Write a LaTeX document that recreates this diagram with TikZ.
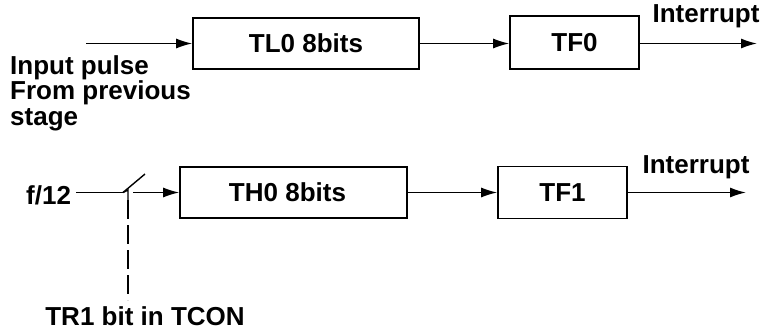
\documentclass[tikz,border=0pt]{standalone}
\usepackage{fontspec}
\setmainfont{Liberation Sans}
\usetikzlibrary{arrows.meta}
\begin{document}
\begin{tikzpicture}[x=1pt,y=-1pt,
  blk/.style={draw,line width=1.6pt,inner sep=0pt,font=\bfseries\fontsize{26}{27}\selectfont},
  lbl/.style={inner sep=0pt,font=\bfseries\fontsize{26}{27}\selectfont},
  wire/.style={line width=1.4pt},
  arr/.style={wire,-{Latex[length=16pt,width=10pt]}}]
\useasboundingbox (0,0) rectangle (768,332);
% top row
\node[blk,minimum width=226pt,minimum height=51pt] (tl0) at (306,43.5) {TL0 8bits};
\node[blk,minimum width=129pt,minimum height=53pt] (tf0) at (574.5,42.5) {TF0};
\coordinate (in0) at (86,43.5);
\coordinate (int0) at (757,43.5);
\draw[arr] (in0) -- (tl0.west);
\draw[arr] (tl0.east) -- (tf0.west |- tl0.east);
\draw[arr] (tf0.east |- int0) -- (int0);
\node[lbl] (intl0) at (706,16) {Interrupt};
\node[lbl,align=left,anchor=north west,font=\bfseries\fontsize{26}{25.5}\selectfont] (inp) at (10,55) {Input pulse\\From previous\\stage};
% bottom row
\node[blk,minimum width=227pt,minimum height=51pt] (th0) at (293.5,192.5) {\hspace*{-12pt}TH0 8bits};
\node[blk,minimum width=129pt,minimum height=52pt] (tf1) at (562.5,192.5) {TF1};
\node[lbl,anchor=west] (f12) at (26,195) {f/12};
\coordinate (sw0) at (76,192.5);
\coordinate (sw1) at (123,192.5);
\coordinate (swt) at (145,174);
\coordinate (sw2) at (133,192.5);
\coordinate (sdn) at (128,190);
\coordinate (sbot) at (128,300);
\coordinate (int1) at (746,192.5);
\draw[wire] (sw0) -- (sw1);
\draw[wire] (sw1) -- (swt);
\draw[wire] (sw1) -- (sdn) -- ++(0,10);
\draw[arr] (sw2) -- (th0.west |- sw2);
\draw[arr] (th0.east |- tf1.west) -- (tf1.west);
\draw[arr] (tf1.east |- int1) -- (int1);
\node[lbl] (intl1) at (696,167) {Interrupt};
\node[lbl] (tr1) at (145,316) {TR1 bit in TCON};
\draw[wire,dash pattern=on 19pt off 6pt] (sdn) ++(0,10) -- (sbot);
\end{tikzpicture}
\end{document}
